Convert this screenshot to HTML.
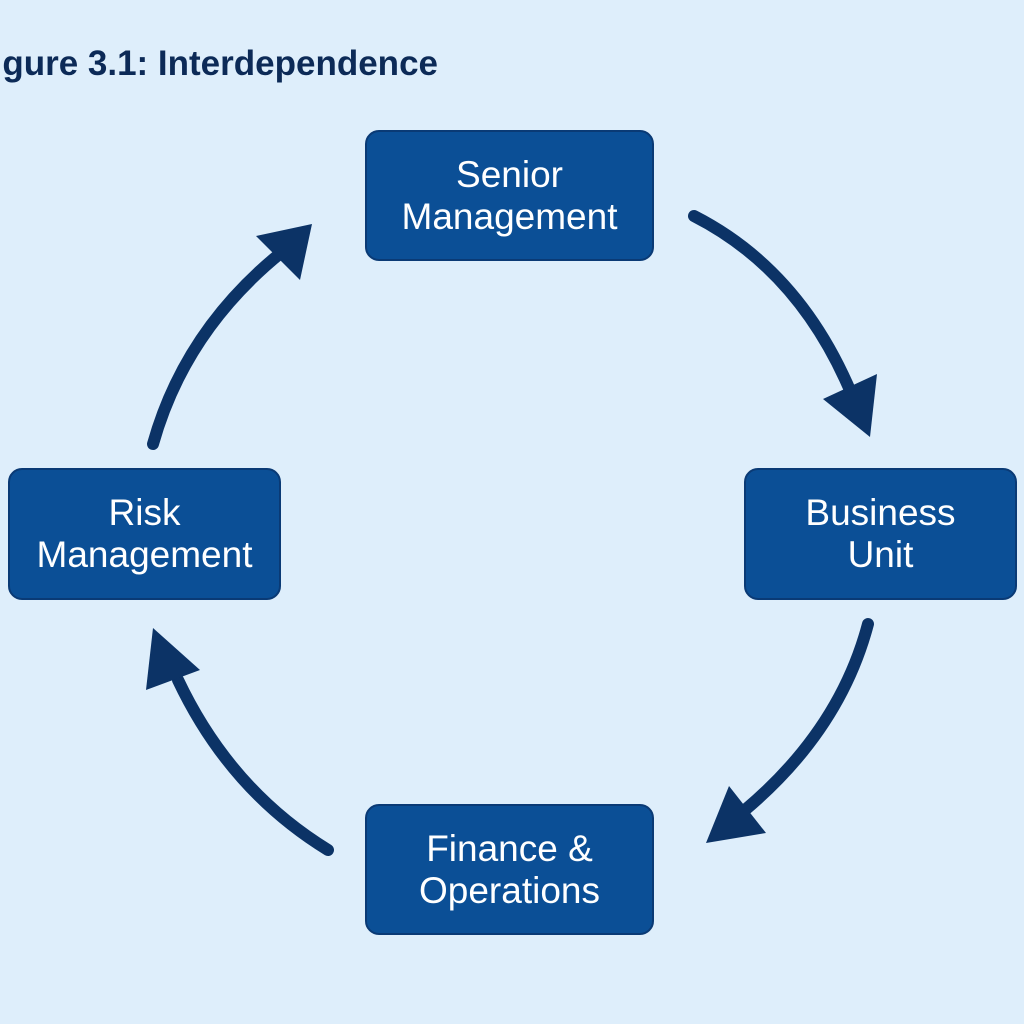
<!DOCTYPE html>
<html><head><meta charset="utf-8"><style>
html,body{margin:0;padding:0;}
body{width:1024px;height:1024px;background:#deeefb;position:relative;overflow:hidden;font-family:"Liberation Sans",sans-serif;}
.t{position:absolute;right:586px;top:44px;white-space:nowrap;font-weight:bold;font-size:35px;color:#0c2a57;}
.b{position:absolute;background:#0b4f96;border:2px solid #0a3a75;border-radius:14px;color:#fff;font-size:37px;line-height:42px;text-align:center;display:flex;align-items:center;justify-content:center;box-sizing:border-box;}
</style></head><body>
<div class="t">Figure 3.1: Interdependence</div>
<svg width="1024" height="1024" style="position:absolute;left:0;top:0">
<g fill="none" stroke="#0c3366" stroke-width="12" stroke-linecap="round">
<path d="M694,216 Q800,270 852,395"/>
<path d="M868,624 Q840,730 745,810"/>
<path d="M328,850 Q230,790 178,680"/>
<path d="M153,444 Q185,330 282,252"/>
</g>
<g fill="#0c3366">
<polygon points="823,399 877,374 870,437"/>
<polygon points="729,786 766,833 706,843"/>
<polygon points="146,690 200,670 153,628"/>
<polygon points="256,236 300,280 312,224"/>
</g>
</svg>
<div class="b" style="left:365px;top:130px;width:289px;height:131px">Senior<br>Management</div>
<div class="b" style="left:744px;top:468px;width:273px;height:132px">Business<br>Unit</div>
<div class="b" style="left:8px;top:468px;width:273px;height:132px">Risk<br>Management</div>
<div class="b" style="left:365px;top:804px;width:289px;height:131px">Finance &amp;<br>Operations</div>
</body></html>
